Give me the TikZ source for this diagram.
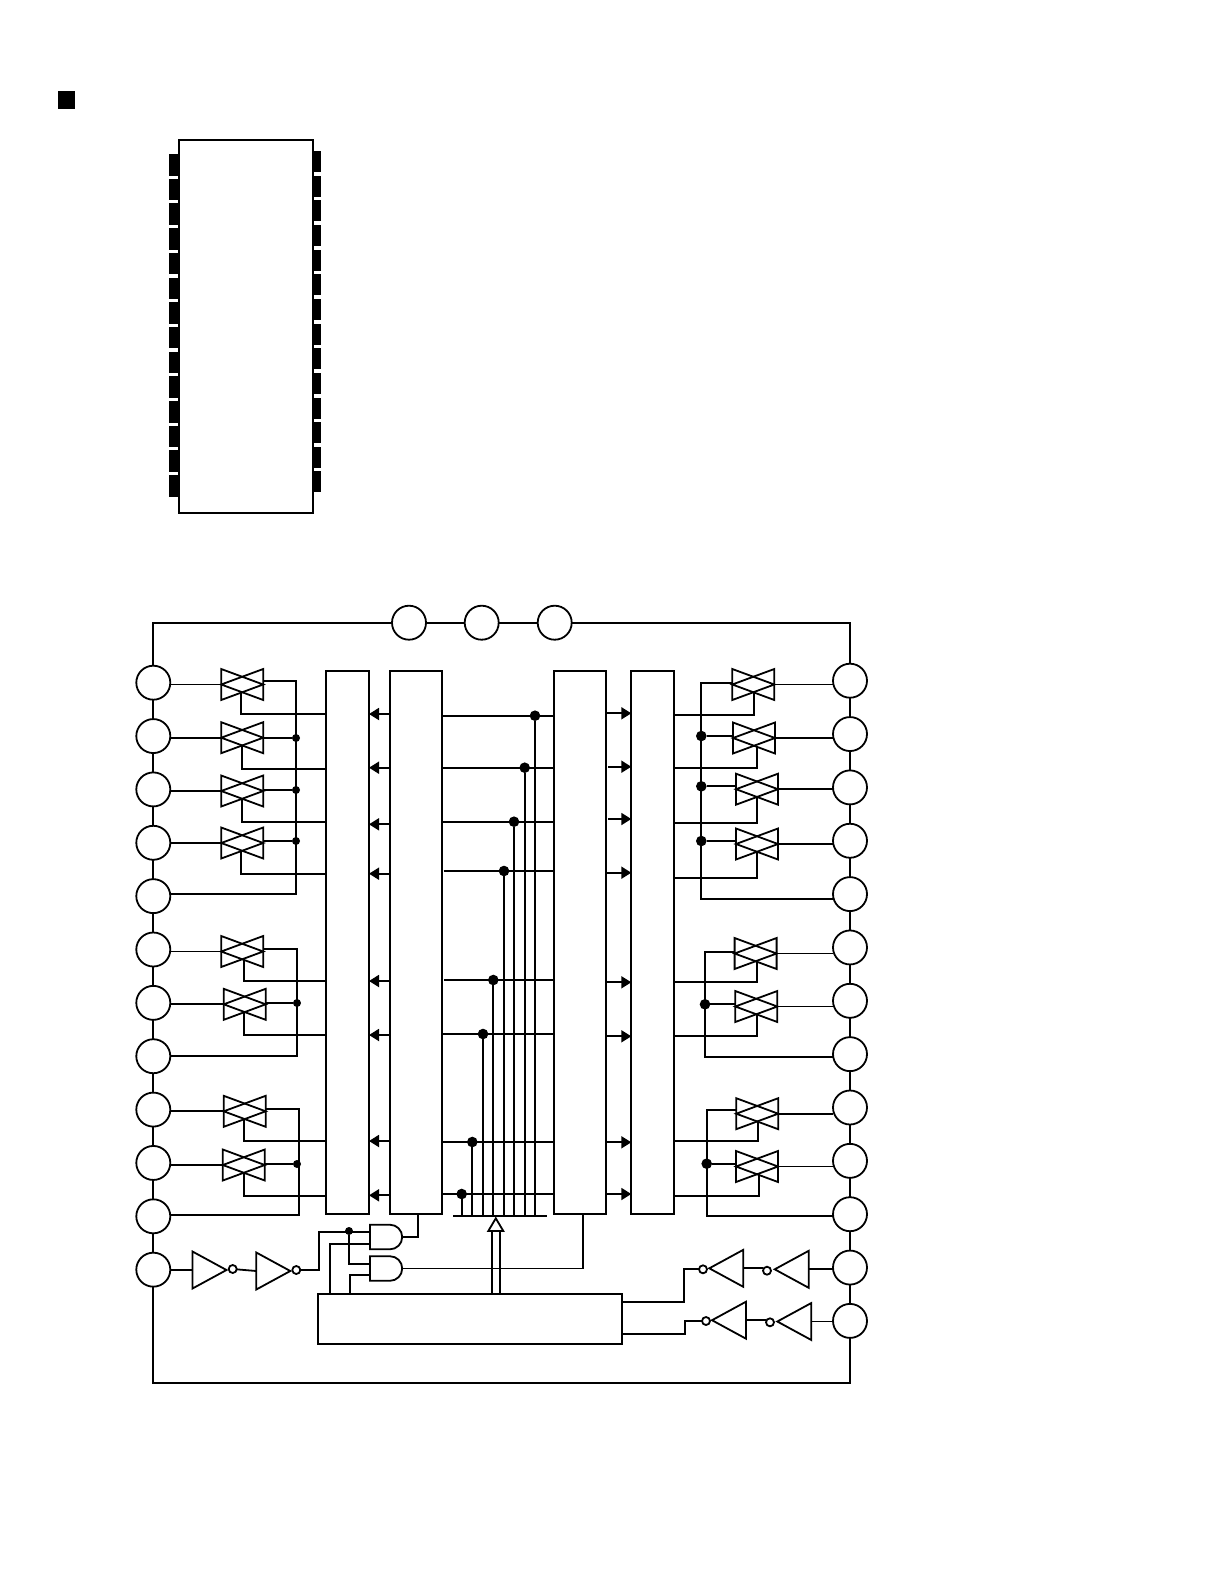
\documentclass[tikz,border=0pt]{standalone}
\usepackage{tikz}
\usetikzlibrary{arrows.meta,calc}
\tikzstyle{pin}=[draw,circle,inner sep=0pt,outer sep=0pt,minimum size=34pt]
\tikzstyle{block}=[draw,inner sep=0pt,outer sep=0pt]
\tikzstyle{tbox}=[inner sep=0pt,outer sep=0pt,minimum width=42pt,minimum height=31pt]
\tikzstyle{ibox}=[inner sep=0pt,outer sep=0pt,minimum width=34pt,minimum height=37pt]
\tikzstyle{andbox}=[inner sep=0pt,outer sep=0pt,minimum width=32.3pt,minimum height=24.6pt]
\tikzstyle{bub}=[draw,circle,inner sep=0pt,outer sep=0pt,minimum size=8pt]
\tikzstyle{dotS}=[fill,circle,inner sep=0pt,outer sep=0pt,minimum size=8pt]
\tikzstyle{dotB}=[fill,circle,inner sep=0pt,outer sep=0pt,minimum size=10.6pt]
\tikzstyle{lead}=[fill,inner sep=0pt,outer sep=0pt]
\tikzstyle{tip}=[-{Triangle[length=10pt,width=12pt]}]
\newcommand{\tgate}[3]{
    \node [tbox] (#1) at (#2,#3) {};
    \draw (#1.north west) -- (#1.east) -- (#1.south west) -- cycle;
    \draw (#1.north east) -- (#1.west) -- (#1.south east) -- cycle;
    \coordinate (#1-c) at ($(#1)+(0,7.75)$);
}
\newcommand{\invright}[3]{
    \node [ibox] (#1) at (#2,#3) {};
    \draw (#1.north west) -- (#1.east) -- (#1.south west) -- cycle;
}
\newcommand{\invleft}[3]{
    \node [ibox] (#1) at (#2,#3) {};
    \draw (#1.north east) -- (#1.west) -- (#1.south east) -- cycle;
}
\newcommand{\andgate}[3]{
    \node [andbox] (#1) at (#2,#3) {};
    \draw (#1.north west) -- ++(19.9,0) arc [start angle=90,end angle=-90,radius=12.3pt] -- (#1.south west) -- cycle;
}
\begin{document}
\begin{tikzpicture}[x=1pt,y=-1pt,line width=1.8pt]
    \useasboundingbox (0,0) rectangle (1224,1584);
    % package
    \node [lead,minimum width=17pt,minimum height=18pt] (mark) at (66.5,100) {};
    \foreach \k in {0,...,13} {
        \node [lead,minimum width=10pt,minimum height=21.5pt] (pa\k) at (174,{164.75+24.7*\k}) {};
        \node [lead,minimum width=8.7pt,minimum height=21pt] (pb\k) at (316.7,{161.5+24.65*\k}) {};
    }
    \node [block,fill=white,minimum width=134.6pt,minimum height=372.7pt] (chip) at (246,326.35) {};
    % pins
    \foreach \k in {1,...,12}
        \node [pin] (l\k) at (153.3,{682.7+53.36*(\k-1)}) {};
    \foreach \k in {1,...,13}
        \node [pin] (r\k) at (850,{680.7+53.35*(\k-1)}) {};
    \node [pin] (t1) at (409,622.7) {};
    \node [pin] (t2) at (481.7,622.7) {};
    \node [pin] (t3) at (554.7,622.7) {};
    \coordinate (fb) at (500,1382.7);
    \draw (l1) |- (t1);
    \draw (t1) -- (t2);
    \draw (t2) -- (t3);
    \draw (t3) -| (r1);
    \draw (l12) |- (fb) -| (r13);
    \foreach \a/\b in {1/2,2/3,3/4,4/5,5/6,6/7,7/8,8/9,9/10,10/11,11/12}
        \draw (l\a) -- (l\b);
    \foreach \a/\b in {1/2,2/3,3/4,4/5,5/6,6/7,7/8,8/9,9/10,10/11,11/12,12/13}
        \draw (r\a) -- (r\b);
    % blocks
    \node [block,minimum width=43pt,minimum height=543pt] (a) at (347.5,942.2) {};
    \node [block,minimum width=52.3pt,minimum height=543pt] (b) at (415.85,942.2) {};
    \node [block,minimum width=52pt,minimum height=543pt] (c) at (580,942.2) {};
    \node [block,minimum width=42.4pt,minimum height=543pt] (d) at (652.5,942.2) {};
    \node [block,minimum width=304.3pt,minimum height=50pt] (e) at (470.15,1318.7) {};
    % left switches
    \tgate{gl1}{242.2}{684.5}
    \tgate{gl2}{242.2}{737.7}
    \tgate{gl3}{242.2}{791}
    \tgate{gl4}{242.2}{843}
    \tgate{gl6}{242.2}{951.5}
    \tgate{gl7}{244.7}{1004.3}
    \tgate{gl9}{244.7}{1111.3}
    \tgate{gl10}{243.8}{1165}
    \foreach \n in {1,2,3,4,6,7,9,10}
        \draw (l\n.east |- gl\n.west) -- (gl\n.west);
    \foreach \n/\s/\y in {1/-1/713.7,2/0/769,3/0/821.7,4/-1/874,6/2/980.7,7/-1/1034.7,9/-1/1141.3,10/0.5/1196} {
        \coordinate (ca\n) at (326,\y);
        \draw ([xshift=\s pt]gl\n-c) |- (ca\n);
    }
    % left common lines
    \coordinate (bl1t) at (296,681);
    \coordinate (bl1b) at (296,893.7);
    \coordinate (bl2t) at (296.7,949);
    \coordinate (bl2b) at (296.7,1055.7);
    \coordinate (bl3t) at (298.7,1109.3);
    \coordinate (bl3b) at (298.7,1215.3);
    \draw (gl1.east |- bl1t) -- (bl1t) -- (bl1b) -- (l5.east |- bl1b);
    \draw (gl6.east |- bl2t) -- (bl2t) -- (bl2b) -- (l8.east |- bl2b);
    \draw (gl9.east |- bl3t) -- (bl3t) -- (bl3b) -- (l11.east |- bl3b);
    \node [dotS] (dl2) at (296,738) {};
    \node [dotS] (dl3) at (296,790) {};
    \node [dotS] (dl4) at (296,841) {};
    \node [dotS] (dl7) at (297,1003) {};
    \node [dotS] (dl10) at (297,1164) {};
    \foreach \n in {2,3,4,7,10}
        \draw (gl\n.east |- dl\n) -- (dl\n);
    % right switches
    \tgate{gr1}{753.3}{684.5}
    \tgate{gr2}{754}{738}
    \tgate{gr3}{757}{789.2}
    \tgate{gr4}{757}{844}
    \tgate{gr6}{755.6}{953.5}
    \tgate{gr7}{756.3}{1006.5}
    \tgate{gr9}{757.2}{1113.7}
    \tgate{gr10}{757}{1166.5}
    \foreach \n in {1,2,3,4,6,7,9,10}
        \draw (gr\n.east) -- (r\n.west |- gr\n.east);
    \foreach \n/\s/\y in {1/1/714.7,2/2.7/768,3/0/823,4/0/878,6/1/982,7/0.7/1036,9/0.8/1140.7,10/2.3/1195.7} {
        \coordinate (cd\n) at (673.7,\y);
        \draw ([xshift=\s pt]gr\n-c) |- (cd\n);
    }
    % right common lines
    \coordinate (br1t) at (701.3,683.3);
    \coordinate (br1b) at (701.3,898.7);
    \coordinate (br2t) at (705,951.7);
    \coordinate (br2b) at (705,1056.7);
    \coordinate (br3t) at (706.7,1110);
    \coordinate (br3b) at (706.7,1216.3);
    \draw (gr1.west |- br1t) -- (br1t) -- (br1b) -- (r5.west |- br1b);
    \draw (gr6.west |- br2t) -- (br2t) -- (br2b) -- (r8.west |- br2b);
    \draw (gr9.west |- br3t) -- (br3t) -- (br3b) -- (r11.west |- br3b);
    \node [dotB] (dr2) at (701.3,736) {};
    \node [dotB] (dr3) at (701.3,786.3) {};
    \node [dotB] (dr4) at (701.3,841) {};
    \node [dotB] (dr7) at (705,1004.3) {};
    \node [dotB] (dr10) at (706.7,1163.7) {};
    \foreach \n in {2,3,4,7,10}
        \draw (dr\n) -- (gr\n.west |- dr\n);
    % arrows between the blocks
    \foreach \y in {714,767.7,824.3,873.7,981,1035,1141,1195.3} {
        \coordinate (ya) at (0,\y);
        \draw [tip] (b.west |- ya) -- (a.east |- ya);
    }
    \foreach \y/\g in {713.3/0,766.7/2,819/2,872.7/1,982.3/0,1036.3/0,1142.3/0,1194/0} {
        \coordinate (yd) at (0,\y);
        \draw [tip] ([xshift=\g pt]c.east |- yd) -- (d.west |- yd);
    }
    % data lines
    \coordinate (barl) at (453.3,1216);
    \coordinate (barr) at (547.3,1216);
    \draw (barl) -- (barr);
    \foreach \n/\x/\y/\g in {1/535/715.7/0,2/524.7/767.7/0,3/514/821.7/0,4/504/871/1.5,5/493.3/980/2,6/483/1034/0,7/472.3/1142/0,8/461.7/1194/0} {
        \node [dotB] (v\n) at (\x,\y) {};
        \coordinate (w\n) at (\x,1216);
        \draw (v\n) -- (w\n);
        \draw ([xshift=\g pt]b.east |- v\n) -- (c.west |- v\n);
    }
    % and gates
    \andgate{and1}{386.15}{1237}
    \andgate{and2}{386.15}{1268.5}
    \coordinate (in1a) at (370,1232);
    \coordinate (in1b) at (370,1244.3);
    \coordinate (in2a) at (370,1264.3);
    \coordinate (in2b) at (370,1274.7);
    \coordinate (up1) at (330,1293.7);
    \coordinate (up2) at (350,1293.7);
    \coordinate (bo) at (418,1213.7);
    \coordinate (co) at (583.3,1213.7);
    \coordinate (jn) at (319,1232);
    \draw (up1) |- (in1b);
    \draw (up2) |- (in2b);
    \draw (and1.east) -| (bo);
    \draw (and2.east) -| (co);
    % input side
    \invright{il1}{209.5}{1270}
    \invright{il2}{273.3}{1271}
    \node [bub] (bl1) at (232.7,1269) {};
    \node [bub] (bl2) at (296.3,1270) {};
    \node [dotS] (dan) at (349,1231) {};
    \draw (l12.east |- il1.west) -- (il1.west);
    \draw (bl1) -- (il2.west);
    \draw (bl2) -| (jn) -- (in1a);
    \draw (dan) |- (in2a);
    % output side
    \invleft{ir1}{726.3}{1268.3}
    \invleft{ir2}{791.7}{1269.3}
    \invleft{ir3}{729}{1320.2}
    \invleft{ir4}{794.3}{1321.5}
    \node [bub] (br1) at (703,1269.3) {};
    \node [bub] (br2) at (767,1270.7) {};
    \node [bub] (br3) at (706,1321) {};
    \node [bub] (br4) at (770,1322.3) {};
    \draw (r12.west |- ir2.east) -- (ir2.east);
    \draw (r13.west |- ir4.east) -- (ir4.east);
    \draw (ir1.east) -- (br2.west |- ir1.east);
    \draw (ir3.east) -- (br4.west |- ir3.east);
    \coordinate (eo1) at (622.3,1302);
    \coordinate (eo2) at (622.3,1334);
    \coordinate (tu1) at (683.7,1302);
    \coordinate (tu2) at (684.7,1334);
    \draw (eo1) -- (tu1) |- (br1);
    \draw (eo2) -- (tu2) |- (br3);
    % hollow arrow
    \coordinate (h1) at (492.3,1231);
    \coordinate (h2) at (499.7,1231);
    \draw (h1) -- (h1 |- e.north);
    \draw (h2) -- (h2 |- e.north);
    \draw [fill=white] (488.3,1231) -- (495.8,1218.3) -- (503.3,1231) -- cycle;
\end{tikzpicture}
\end{document}
